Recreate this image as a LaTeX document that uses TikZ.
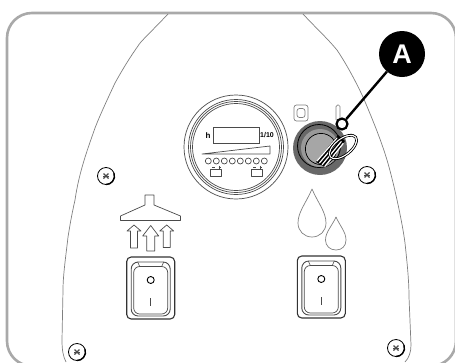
\documentclass[tikz,border=0pt]{standalone}
\usepackage{fontspec}
\setmainfont{Liberation Sans}
\definecolor{framegray}{HTML}{A9A9A9}
\definecolor{inkgray}{HTML}{4A4A4A}
\definecolor{keygray}{HTML}{686868}
\tikzset{
  thin line/.style={draw=inkgray, line width=0.7pt, line join=round},
  screw head/.style={circle, draw=black, fill=white, line width=0.8pt, minimum size=17pt, inner sep=0pt},
  gauge label/.style={font=\bfseries\fontsize{8}{8}\selectfont, inner sep=0pt},
  gauge dot/.style={circle, thin line, minimum size=6pt, inner sep=0pt},
  key stripe/.style={line width=1.2pt, white, line cap=round},
  badge/.style={circle, fill=black, text=white, minimum size=46pt, inner sep=0pt, font=\bfseries\fontsize{27}{27}\selectfont},
  badge dot/.style={circle, draw=black, fill=white, line width=2.2pt, minimum size=11pt, inner sep=0pt},
}

\begin{document}
\begin{tikzpicture}[x=1pt, y=-1pt]
  \useasboundingbox (0,0) rectangle (455,362);
  \begin{scope}
    \clip (0,0) rectangle (455,362);
    \draw[framegray, line width=2.6pt, rounded corners=25pt] (7,13) rectangle (456,366);
    \draw[thin line, gray] (168,14) .. controls (150,33) and (140,42) .. (138,46)
      .. controls (128,60) and (120,74) .. (115,83) .. controls (108,98) and (100,115) .. (95,128)
      .. controls (88,148) and (79,172) .. (75,200) .. controls (71,218) and (70,225) .. (68,237)
      .. controls (66,255) and (63,275) .. (63,290) -- (62,340) .. controls (62,350) and (63,356) .. (66,362);
    \draw[thin line, gray] (303,14) .. controls (315,27) and (327,38) .. (337,50)
      .. controls (347,65) and (356,82) .. (363,97) .. controls (372,118) and (381,140) .. (387,160)
      .. controls (393,180) and (402,220) .. (405,243) .. controls (407,262) and (409,280) .. (409,297)
      -- (411,345) .. controls (411,352) and (409,358) .. (405,362);
  \end{scope}
  % screws
  \foreach \name/\sx/\sy in {sa/106/176, sb/367/175, sc/77/352, sd/396/348}{
    \node[screw head] (\name) at (\sx,\sy) {};
    \draw[black, line width=1.4pt] ([shift={(\sx,\sy)}]-20:8.5) arc[start angle=-20, end angle=90, radius=8.5];
    \draw[inkgray, line width=1.3pt] (\sx-2.5,\sy-2.5) -- (\sx+2.5,\sy+2.5);
    \draw[inkgray, line width=1.3pt] (\sx-2.5,\sy+2.5) -- (\sx+2.5,\sy-2.5);
    \draw[inkgray, line width=0.5pt] (\sx-3,\sy) -- (\sx+3,\sy);
  }
  % gauge
  \coordinate (gc) at (236,147);
  \draw[thin line] (gc) circle (52);
  \draw[thin line] (gc) circle (47.5);
  \draw[thin line] (gc) circle (45.5);
  \draw[thin line] (gc) circle (43.5);
  \node[draw=inkgray, line width=0.7pt, minimum width=46pt, minimum height=16pt, inner sep=0pt] (display) at (236,135) {};
  \node[gauge label] (hours) at (208,136) {h};
  \node[gauge label, font=\bfseries\fontsize{7}{8}\selectfont] (tenths) at (267,135) {1/10};
  \draw[thin line] (202,154) -- (270,146) -- (270,154) -- cycle;
  \foreach \i in {0,...,7}{
    \node[gauge dot] (led\i) at (208.3+8*\i,161) {};
  }
  \foreach \bx in {216,257}{
    \draw[thin line] (\bx-5.5,169) rectangle (\bx+5.5,176.5);
    \draw[inkgray, line width=1pt] (\bx-4,167) -- (\bx-1.5,167) (\bx+2.5,167) -- (\bx+5,167) (\bx+3.75,165.5) -- (\bx+3.75,168.5);
  }
  % key switch
  \draw[thin line, gray, rounded corners=2.5pt] (294,105) rectangle (308,121);
  \draw[thin line, gray, rounded corners=2.5pt] (297,108.5) rectangle (305,117.5);
  \draw[thin line, gray, rounded corners=1.5pt] (336,105) rectangle (340,121);
  \coordinate (kc) at (320,148);
  \fill[keygray] (kc) circle (27);
  \draw[black, line width=0.8pt] (319,146) circle (21.5);
  \fill[gray!80] (320,148) circle (19);
  \draw[black, line width=0.9pt] (321,149) circle (15.5);
  \fill[gray!70] (321,149) circle (15);
  \fill[black] (316,162) -- (338,135) -- (345,141) -- (325,167) -- cycle;
  \foreach \o in {0,2.6,5.2,7.8}{
    \draw[key stripe] (317+\o,161+\o*0.7) -- (337+\o*0.8,138+\o*0.7);
  }
  \draw[black, line width=0.9pt, rotate around={38:(343,147)}] (343,147) ellipse (17 and 9);
  \draw[white, line width=1.1pt, rotate around={38:(343,147)}] (343,147) ellipse (16 and 8);
  \draw[black, line width=0.6pt, rotate around={38:(343,147)}] (343,147) ellipse (15 and 7);
  % pictograms
  \draw[thin line] (145,195) -- (154,195) -- (154,205) -- (180.5,216) -- (180.5,220.5)
    -- (120.5,220.5) -- (120.5,216) -- (145,205) -- cycle;
  \foreach \ax/\tip/\base/\bot/\hw in {134/225/231/248/7, 150.7/225.5/236/251/8, 166.7/225/231/247.5/7}{
    \draw[thin line] (\ax,\tip) -- (\ax+\hw,\base) -- (\ax+\hw/2,\base) -- (\ax+\hw/2,\bot)
      -- (\ax-\hw/2,\bot) -- (\ax-\hw/2,\base) -- (\ax-\hw,\base) -- cycle;
  }
  \draw[thin line, gray] (312,189) .. controls (306,203) and (298,212) .. (298,223)
    .. controls (298,231) and (304,237) .. (312,237) .. controls (320,237) and (326,231) .. (326,223)
    .. controls (326,212) and (318,203) .. (312,189) -- cycle;
  \draw[thin line, gray] (336,217) .. controls (332,226) and (325.5,232) .. (325.5,240)
    .. controls (325.5,246) and (330,250) .. (336,250) .. controls (342,250) and (346,246) .. (346,240)
    .. controls (346,232) and (340,226) .. (336,217) -- cycle;
  % rocker switches
  \foreach \cx/\cy in {150.7/288, 321.3/287}{
    \draw[black!80, line width=1.1pt, rounded corners=4.5pt] (\cx-24,\cy-31) rectangle (\cx+24,\cy+31);
    \draw[inkgray, line width=0.9pt, rounded corners=7pt] (\cx-19.5,\cy-26) rectangle (\cx+19.5,\cy+28);
    \draw[inkgray, line width=0.7pt, rounded corners=6pt] (\cx-17,\cy-21.5) rectangle (\cx+17,\cy+26);
    \draw[inkgray, line width=0.6pt] (\cx-13,\cy-26) -- (\cx-11,\cy-21.5) (\cx+13,\cy-26) -- (\cx+11,\cy-21.5);
    \draw[black, line width=0.9pt] (\cx,\cy-8) circle (3.5);
    \draw[inkgray, line width=0.9pt] (\cx,\cy+10) -- (\cx,\cy+18);
  }
  % callout
  \node[badge] (callout) at (402,54) {A};
  \node[badge dot] (keydot) at (342,124) {};
  \draw[black, line width=2.4pt] (callout) -- (keydot);
\end{tikzpicture}
\end{document}
